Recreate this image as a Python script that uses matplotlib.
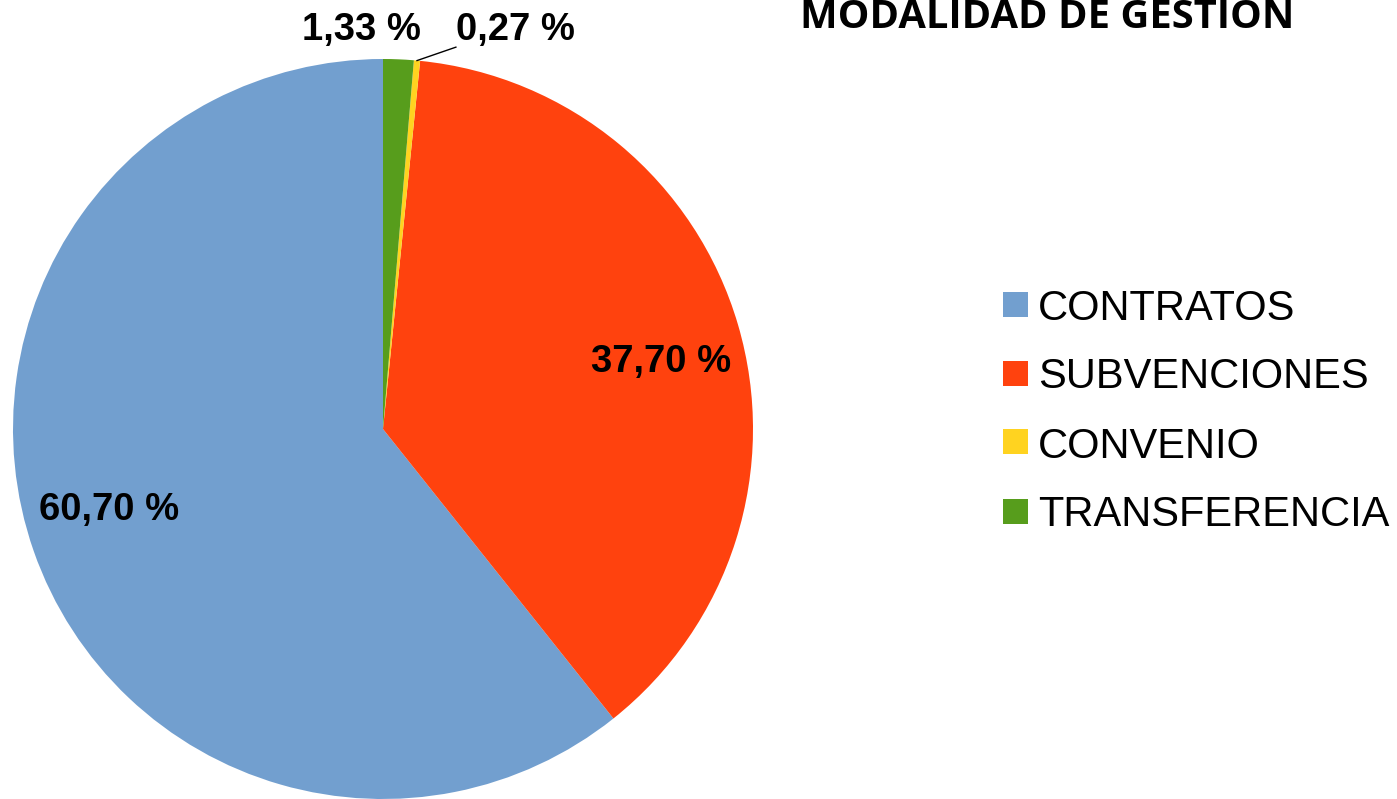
import numpy as np
import matplotlib
matplotlib.use("Agg")
import matplotlib.pyplot as plt
from matplotlib.patches import Rectangle

# data ----------------------------------------------------------------------
categories = ["CONTRATOS", "SUBVENCIONES", "CONVENIO", "TRANSFERENCIA"]
shares     = [60.70, 37.70, 0.27, 1.33]
colors     = ["#729fcf", "#ff420e", "#ffd320", "#579d1c"]
title      = "MODALIDAD DE GESTION"

def fmt(v):
    return f"{v:.2f}".replace(".", ",") + " %"

W, H = 1397, 799
fig = plt.figure(figsize=(W/100, H/100), dpi=100)
fig.patch.set_facecolor("white")

# pie: centre (383, 429) px, radius 370 px
cx, cy, r = 383, 429, 370
ax = fig.add_axes([(cx-r)/W, (H-cy-r)/H, 2*r/W, 2*r/H])
wedges, _ = ax.pie(shares, colors=colors, startangle=90, counterclock=True,
                   radius=1.0, wedgeprops=dict(linewidth=0))
ax.set_xlim(-1, 1); ax.set_ylim(-1, 1)
ax.set_aspect("equal")
ax.axis("off")
for w in wedges:
    w.set_clip_on(False)

lab_font = dict(family="Liberation Sans", fontweight="bold", fontsize=27.5,
                color="black")

# large slices: label inside near mid angle
for w, v in zip(wedges[:2], shares[:2]):
    mid = np.radians((w.theta1 + w.theta2) / 2 - 2.75)
    rr = 0.773
    ax.text(rr*np.cos(mid), rr*np.sin(mid), fmt(v), ha="center",
            va="center", **lab_font)

# small slices: labels above the pie
wy, wg = wedges[2], wedges[3]
ax.text(-0.057, 1.078, fmt(shares[3]), ha="center", va="center", **lab_font)
ym = np.radians((wy.theta1 + wy.theta2) / 2)
ax.text(0.197, 1.078, fmt(shares[2]), ha="left", va="center", **lab_font)
ax.plot([np.cos(ym), 0.197], [np.sin(ym), 1.032], color="black", lw=1,
        clip_on=False)

# legend (drawn by hand to match the source layout)
leg_y = [304, 373, 442, 511]
for lab, c, y in zip(categories, colors, leg_y):
    fig.patches.append(Rectangle((1003/W, 1 - (y+12.5)/H), 25/W, 25/H,
                                 fc=c, ec="none", transform=fig.transFigure))
    fig.text(1038/W, 1 - y/H, lab, ha="left", va="center_baseline",
             family="Liberation Sans", fontsize=30)

# title (top cut off like in the source)
fig.text(1047/W, 1 - 28/H, title, ha="center", va="baseline",
         fontsize=28.7, fontweight="bold", family="Open Sans")

fig.savefig("out.png", dpi=100)
